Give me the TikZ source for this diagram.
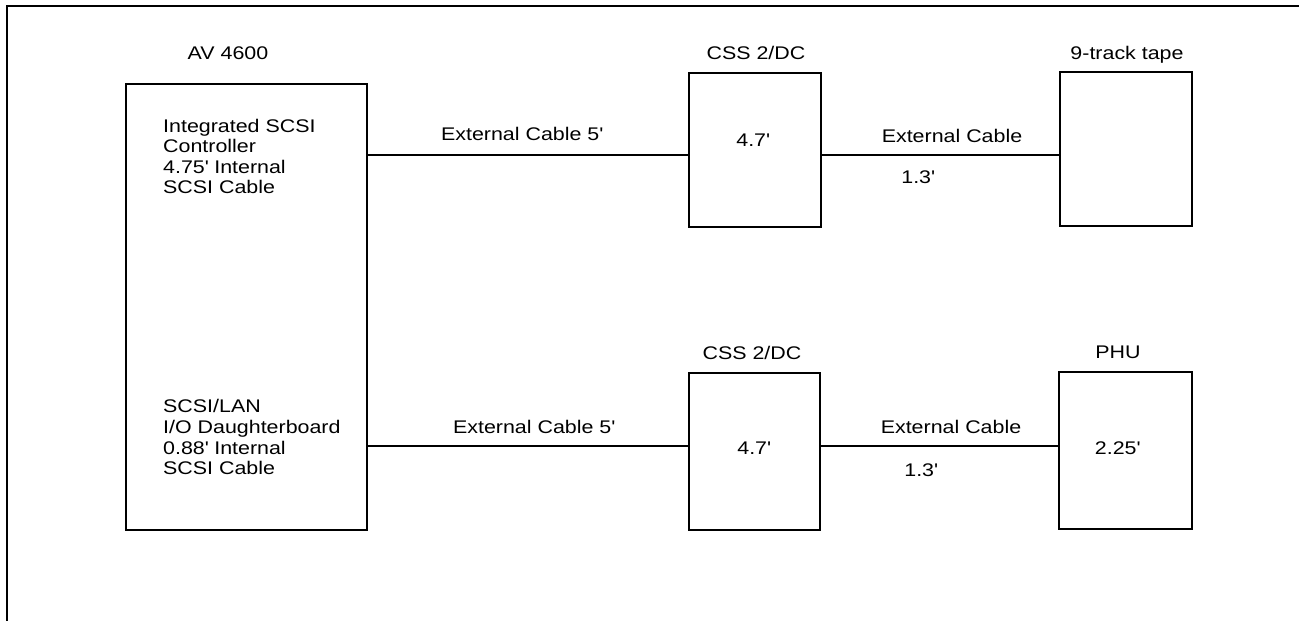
\documentclass[tikz,border=0pt]{standalone}
\usepackage{fontspec}
\setmainfont{Liberation Sans}[FakeStretch=1.17]
\newcommand{\apos}{\textquotesingle}
\begin{document}
\begin{tikzpicture}[x=1pt,y=-1pt,
  box/.style={draw,line width=1.1pt,inner sep=0pt,minimum width=#1},
  lbl/.style={inner sep=0pt,anchor=base,font=\fontsize{18.3}{20.5}\selectfont},
  lline/.style={inner sep=0pt,anchor=base west,font=\fontsize{18.3}{20.5}\selectfont},
  wire/.style={line width=1.1pt},
  frame/.style={line width=1.1pt}]
\useasboundingbox (0,0) rectangle (1299,621);
% frame (top and left only)
\coordinate (ftl) at (7,6);
\coordinate (ftr) at (1299,6);
\coordinate (fbl) at (7,621);
\draw[frame] (ftr) -- (ftl) -- (fbl);
% boxes
\node[box=241pt,minimum height=446pt] (av) at (246.5,307) {};
\node[box=132pt,minimum height=154pt] (css1) at (755,150) {};
\node[box=132pt,minimum height=154pt] (tape) at (1126,149) {};
\node[box=131pt,minimum height=157pt] (css2) at (754.5,451.5) {};
\node[box=133pt,minimum height=157pt] (phu) at (1125.5,450.5) {};
% titles
\node[lbl] (tav) at (228,59.5) {AV 4600};
\node[lbl] (tcss1) at (756,59.5) {CSS 2/DC};
\node[lbl] (ttape) at (1127,59.5) {9-track tape};
\node[lbl] (tcss2) at (752,359.5) {CSS 2/DC};
\node[lbl] (tphu) at (1118,358.5) {PHU};
% box contents
\node[lline] (u1) at (163,132.5) {Integrated SCSI};
\node[lline] (u2) at (163,152.9) {Controller};
\node[lline] (u3) at (163,173.3) {4.75\apos{} Internal};
\node[lline] (u4) at (163,193.7) {SCSI Cable};
\node[lline] (d1) at (163,412.5) {SCSI/LAN};
\node[lline] (d2) at (163,433.3) {I/O Daughterboard};
\node[lline] (d3) at (163,454.1) {0.88\apos{} Internal};
\node[lline] (d4) at (163,474.9) {SCSI Cable};
\node[lbl] (c1v) at (753,146.5) {4.7\apos};
\node[lbl] (c2v) at (754,454.5) {4.7\apos};
\node[lbl] (pv) at (1117.5,454.5) {2.25\apos};
% connectors
\coordinate (r1) at (0,155);
\coordinate (r2) at (0,446);
\draw[wire] (av.east |- r1) -- (css1.west |- r1);
\draw[wire] (css1.east |- r1) -- (tape.west |- r1);
\draw[wire] (av.east |- r2) -- (css2.west |- r2);
\draw[wire] (css2.east |- r2) -- (phu.west |- r2);
% connector labels
\node[lbl] (e1) at (522,140.5) {External Cable 5\apos};
\node[lbl] (e2) at (534,433.5) {External Cable 5\apos};
\node[lbl] (f1) at (952,142.5) {External Cable};
\node[lbl] (f2) at (951,433.5) {External Cable};
\node[lbl] (g1) at (918,183.5) {1.3\apos};
\node[lbl] (g2) at (921,476.5) {1.3\apos};
\end{tikzpicture}
\end{document}
